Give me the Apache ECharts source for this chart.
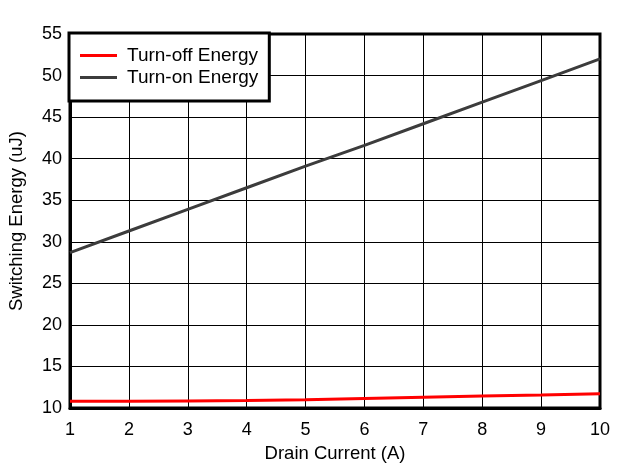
<!DOCTYPE html>
<html>
<head>
<meta charset="utf-8">
<script src="https://cdn.jsdelivr.net/npm/echarts@6/dist/echarts.min.js"></script>
<style>
  html, body { margin: 0; padding: 0; background: #fff; }
  #chartDom { width: 630px; height: 475px; }
</style>
</head>
<body>
<div id="chartDom"></div>
<script>
// drain current (A)
const current = [1, 2, 3, 4, 5, 6, 7, 8, 9, 10]
// switching energy (uJ)
const turnOff = [10.8, 10.8, 10.85, 10.9, 11.0, 11.15, 11.3, 11.45, 11.55, 11.7]
const turnOn = [28.7, 31.3, 33.9, 36.5, 39.1, 41.6, 44.2, 46.8, 49.4, 52.0]

const font = 'Arial, "Liberation Sans", sans-serif'
const pairs = (ys) => current.map((x, i) => [x, ys[i]])

const chart = echarts.init(document.getElementById('chartDom'))
const option = {
  animation: false,
  grid: {
    left: 70, right: 30, top: 34, bottom: 67,
    outerBoundsMode: 'none',
    containLabel: false,
    show: true,
    borderColor: '#000',
    borderWidth: 3,
    backgroundColor: 'transparent'
  },
  legend: {
    orient: 'vertical',
    left: 69,
    top: 33,
    backgroundColor: '#fff',
    borderColor: '#000',
    borderWidth: 3,
    borderRadius: 0,
    padding: [13, 11, 14, 11],
    itemGap: 3,
    itemWidth: 37,
    itemHeight: 3,
    icon: 'rect',
    textStyle: { fontFamily: font, fontSize: 19, color: '#000', padding: [0, 0, 0, 5] },
    data: ['Turn-off Energy', 'Turn-on Energy']
  },
  xAxis: {
    type: 'value',
    min: 1, max: 10, interval: 1,
    name: 'Drain Current (A)',
    nameLocation: 'middle',
    nameGap: 36,
    nameTextStyle: { fontFamily: font, fontSize: 18.5, color: '#000' },
    axisLine: { show: true, lineStyle: { color: '#000', width: 3 } },
    axisTick: { show: false },
    axisLabel: { fontFamily: font, fontSize: 18, color: '#000', margin: 13 },
    splitLine: { show: true, lineStyle: { color: '#000', width: 1 } }
  },
  yAxis: {
    type: 'value',
    min: 10, max: 55, interval: 5,
    name: 'Switching Energy (uJ)',
    nameLocation: 'middle',
    nameGap: 44,
    nameTextStyle: { fontFamily: font, fontSize: 18.5, color: '#000' },
    axisLine: { show: true, lineStyle: { color: '#000', width: 3 } },
    axisTick: { show: false },
    axisLabel: { fontFamily: font, fontSize: 18, color: '#000', margin: 8 },
    splitLine: { show: true, lineStyle: { color: '#000', width: 1 } }
  },
  series: [
    {
      name: 'Turn-off Energy',
      type: 'line',
      symbol: 'none',
      data: pairs(turnOff),
      lineStyle: { color: '#ff0000', width: 3 },
      itemStyle: { color: '#ff0000' },
      z: 3
    },
    {
      name: 'Turn-on Energy',
      type: 'line',
      symbol: 'none',
      data: pairs(turnOn),
      lineStyle: { color: '#3c3c3c', width: 3 },
      itemStyle: { color: '#3c3c3c' },
      z: 3
    }
  ]
}
chart.setOption(option)
</script>
</body>
</html>
